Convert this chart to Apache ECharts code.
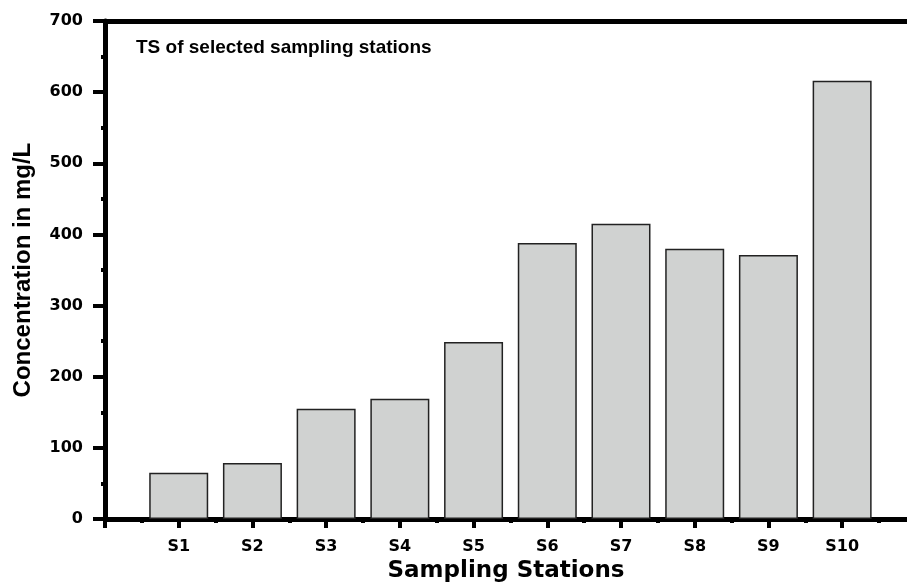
<!DOCTYPE html>
<html>
<head>
<meta charset="utf-8">
<script src="https://cdn.jsdelivr.net/npm/echarts@6/dist/echarts.min.js"></script>
<style>
    html, body { margin: 0; padding: 0; background: #fff; }
    #chart { width: 907px; height: 588px; }
</style>
</head>
<body>
<div id="chart"></div>
<script>
// data
const stations = ['S1', 'S2', 'S3', 'S4', 'S5', 'S6', 'S7', 'S8', 'S9', 'S10']
const tsValues = [65, 79, 155, 169, 249, 388, 415, 380, 371, 616]
const yTicks = [0, 100, 200, 300, 400, 500, 600, 700]
const xTicks = [0, 1, 2, 3, 4, 5, 6, 7, 8, 9, 10]

const myChart = echarts.init(document.getElementById('chart'))
const fontColor = '#000'
const labelFont = 'DejaVu Sans'
// the frame runs off the right edge of the picture
const xMax = 10.88

const option = {
    backgroundColor: '#fff',
    animation: false,
    title: {
        text: 'TS of selected sampling stations',
        left: 131,
        top: 33,
        textStyle: {
            fontFamily: 'Liberation Sans',
            fontWeight: 'bold',
            fontSize: 19,
            color: fontColor
        }
    },
    grid: {
        left: 105,
        right: 0,
        top: 21,
        bottom: 66
    },
    xAxis: [
        {
            type: 'value',
            min: 0,
            max: xMax,
            interval: 1,
            name: 'Sampling Stations',
            nameLocation: 'middle',
            nameGap: 38,
            nameTextStyle: {
                fontFamily: labelFont,
                fontWeight: 'bold',
                fontSize: 23,
                color: fontColor
            },
            splitLine: { show: false },
            axisLine: { show: true, lineStyle: { color: fontColor, width: 5 } },
            axisTick: {
                show: true,
                length: 9,
                customValues: xTicks,
                lineStyle: { color: fontColor, width: 4 }
            },
            minorTick: { show: true, splitNumber: 2, length: 4, lineStyle: { color: fontColor, width: 4 } },
            axisLabel: {
                margin: 20,
                customValues: xTicks,
                fontFamily: labelFont,
                fontWeight: 'bold',
                fontSize: 16,
                color: fontColor,
                formatter: function (v) {
                    return stations[v - 1] || ''
                }
            }
        },
        {
            // top frame line
            type: 'value',
            position: 'top',
            min: 0,
            max: xMax,
            axisLine: { show: true, lineStyle: { color: fontColor, width: 5 } },
            axisTick: { show: false },
            axisLabel: { show: false },
            splitLine: { show: false }
        }
    ],
    yAxis: {
        type: 'value',
        min: yTicks[0],
        max: yTicks[yTicks.length - 1],
        interval: 100,
        name: 'Concentration in mg/L',
        nameLocation: 'middle',
        nameGap: 70,
        nameTextStyle: {
            fontFamily: 'Liberation Sans',
            fontWeight: 'bold',
            fontSize: 24,
            color: fontColor
        },
        splitLine: { show: false },
        axisLine: { show: true, lineStyle: { color: fontColor, width: 5 } },
        axisTick: { show: true, length: 12, lineStyle: { color: fontColor, width: 4 } },
        minorTick: { show: true, splitNumber: 2, length: 4, lineStyle: { color: fontColor, width: 4 } },
        axisLabel: {
            margin: 22,
            fontFamily: labelFont,
            fontWeight: 'bold',
            fontSize: 16,
            color: fontColor
        }
    },
    series: [
        {
            name: 'TS',
            type: 'bar',
            barWidth: 59,
            itemStyle: {
                color: '#d0d2d1',
                borderColor: '#222',
                borderWidth: 1.5
            },
            data: stations.map((s, i) => [i + 1, tsValues[i]])
        }
    ]
}
myChart.setOption(option)
</script>
</body>
</html>
